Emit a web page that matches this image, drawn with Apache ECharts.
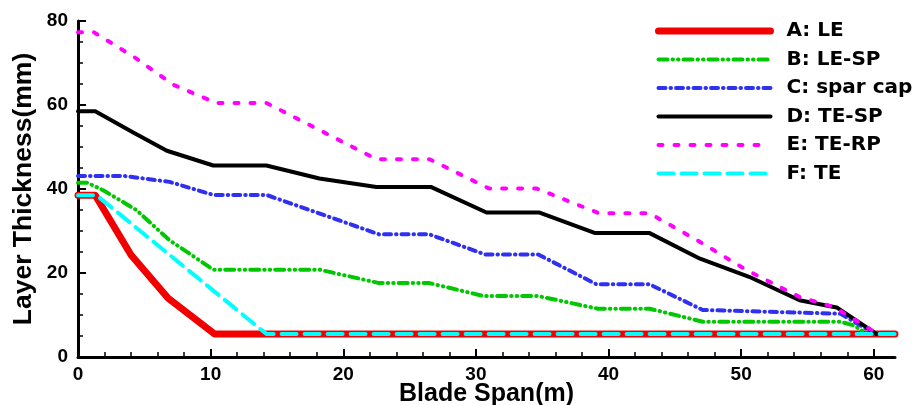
<!DOCTYPE html>
<html>
<head>
<meta charset="utf-8">
<script src="https://cdn.jsdelivr.net/npm/echarts@6/dist/echarts.min.js"></script>
<style>
html,body{margin:0;padding:0;background:#fff;}
#chart{width:915px;height:405px;}
</style>
</head>
<body>
<div id="chart"></div>
<script>
// ---- data ----
const seriesNames = ['A: LE', 'B: LE-SP', 'C: spar cap', 'D: TE-SP', 'E: TE-RP', 'F: TE'];

const A_x = [0, 1.3, 4.0, 6.8, 10.3, 61.6];
const A_y = [38.5, 38.5, 24.3, 14.0, 5.5, 5.5];

const B_x = [0, 0.7, 1.9, 4.4, 6.9, 10.2, 18.2, 22.7, 26.5, 30.6, 34.7, 39.2, 43.1, 47.1, 57.5, 58.5, 59.5];
const B_y = [41.5, 41.5, 39.7, 35.0, 27.8, 20.8, 20.8, 17.6, 17.6, 14.5, 14.5, 11.5, 11.5, 8.4, 8.4, 7.5, 5.5];

const C_x = [0, 3.5, 6.9, 10.2, 14.2, 22.7, 26.5, 30.7, 34.7, 39.1, 43.1, 47.1, 57.5, 60.1];
const C_y = [43.1, 43.1, 41.7, 38.6, 38.6, 29.2, 29.2, 24.4, 24.4, 17.3, 17.3, 11.2, 10.3, 5.5];

const D_x = [0, 1.3, 4.2, 6.7, 10.2, 14.2, 18.2, 22.5, 26.6, 30.8, 34.8, 39.0, 43.1, 46.9, 50.6, 54.4, 57.2, 60.2];
const D_y = [58.5, 58.5, 53.4, 49.1, 45.6, 45.6, 42.5, 40.5, 40.5, 34.4, 34.4, 29.5, 29.5, 23.4, 19.1, 13.5, 11.8, 5.5];

const E_x = [0, 1.2, 4.2, 7.2, 10.4, 14.2, 22.5, 26.5, 31.0, 34.6, 39.3, 43.1, 46.9, 50.4, 54.4, 57.0, 60.3];
const E_y = [77.3, 77.3, 71.5, 64.8, 60.5, 60.5, 47.1, 47.1, 40.1, 40.1, 34.2, 34.2, 27.4, 20.7, 14.3, 11.9, 5.5];

const F_x = [0, 1.4, 14.2, 61.6];
const F_y = [38.5, 38.5, 5.5, 5.5];

const xMajorTicks = [0, 10, 20, 30, 40, 50, 60];
const xMinorTicks = [2, 4, 6, 8, 12, 14, 16, 18, 22, 24, 26, 28, 32, 34, 36, 38, 42, 44, 46, 48, 52, 54, 56, 58];
const xMax = 61.6;
const yMin = 0, yMax = 80, yStep = 20;

// ---- styles ----
const styles = [
  {color: '#f20000', width: 7, type: 'solid'},
  {color: '#00c800', width: 4, type: [9, 5, 0.5, 5, 0.5, 5]},
  {color: '#3030f0', width: 4, type: [7, 5, 0.5, 5]},
  {color: '#000000', width: 4, type: 'solid'},
  {color: '#ff00ff', width: 4, type: [4, 12]},
  {color: '#00ffff', width: 4, type: [15, 8]}
];
const xs = [A_x, B_x, C_x, D_x, E_x, F_x];
const ys = [A_y, B_y, C_y, D_y, E_y, F_y];

const font = 'Liberation Sans, Arial, Helvetica, sans-serif';
const legendFont = 'DejaVu Sans, Liberation Sans, sans-serif';

const series = seriesNames.map((name, i) => ({
  name: name,
  type: 'line',
  xAxisIndex: 0,
  yAxisIndex: 0,
  symbol: 'none',
  showSymbol: false,
  smooth: false,
  data: xs[i].map((x, k) => [x, ys[i][k]]),
  lineStyle: {color: styles[i].color, width: styles[i].width, type: styles[i].type, cap: 'round', join: 'round'},
  itemStyle: {color: styles[i].color},
  z: 2 + i
}));

const chart = echarts.init(document.getElementById('chart'), null, {renderer: 'canvas'});
chart.setOption({
  animation: false,
  backgroundColor: '#fff',
  grid: {left: 78, right: 20, top: 21, bottom: 48, containLabel: false, outerBoundsMode: 'none'},
  legend: {
    orient: 'vertical',
    left: 655,
    top: 21,
    padding: 0,
    itemWidth: 112,
    itemHeight: 14,
    itemGap: 8.5,
    data: seriesNames,
    itemStyle: {color: 'rgba(0,0,0,0)', borderColor: 'rgba(0,0,0,0)', borderWidth: 0, opacity: 0},
    lineStyle: {width: 'inherit'},
    textStyle: {fontSize: 20, fontWeight: 'bold', color: '#000', fontFamily: legendFont, padding: [0, 0, 0, 11]}
  },
  xAxis: [
    {
      type: 'value', min: 0, max: xMax, interval: 10, position: 'bottom',
      name: 'Blade Span(m)', nameLocation: 'middle', nameGap: 25, nameMoveOverlap: false,
      nameTextStyle: {fontSize: 25, fontWeight: 'bold', color: '#000', fontFamily: font},
      axisLine: {show: true, onZero: false, lineStyle: {color: '#000', width: 3}},
      axisTick: {show: true, inside: true, length: 8, customValues: xMajorTicks, lineStyle: {color: '#000', width: 2}},
      axisLabel: {show: true, customValues: xMajorTicks, fontSize: 19, fontWeight: 'bold', color: '#000', fontFamily: font, margin: 8},
      splitLine: {show: false}
    },
    {
      type: 'value', min: 0, max: xMax, position: 'bottom', offset: 0,
      axisLine: {show: false},
      axisTick: {show: true, inside: true, length: 5, customValues: xMinorTicks, lineStyle: {color: '#000', width: 1.5}},
      axisLabel: {show: false},
      splitLine: {show: false}
    }
  ],
  yAxis: {
    type: 'value', min: yMin, max: yMax, interval: yStep,
    name: 'Layer Thickness(mm)', nameLocation: 'middle', nameGap: 41, nameMoveOverlap: false,
    nameTextStyle: {fontSize: 26.5, fontWeight: 'bold', color: '#000', fontFamily: font},
    axisLine: {show: true, onZero: false, lineStyle: {color: '#000', width: 3}},
    axisTick: {show: true, inside: true, length: 8, lineStyle: {color: '#000', width: 2}},
    minorTick: {show: true, splitNumber: 4, length: 5, lineStyle: {color: '#000', width: 1.5}},
    axisLabel: {fontSize: 19, fontWeight: 'bold', color: '#000', fontFamily: font, margin: 10},
    splitLine: {show: false}
  },
  series: series
});
</script>
</body>
</html>
